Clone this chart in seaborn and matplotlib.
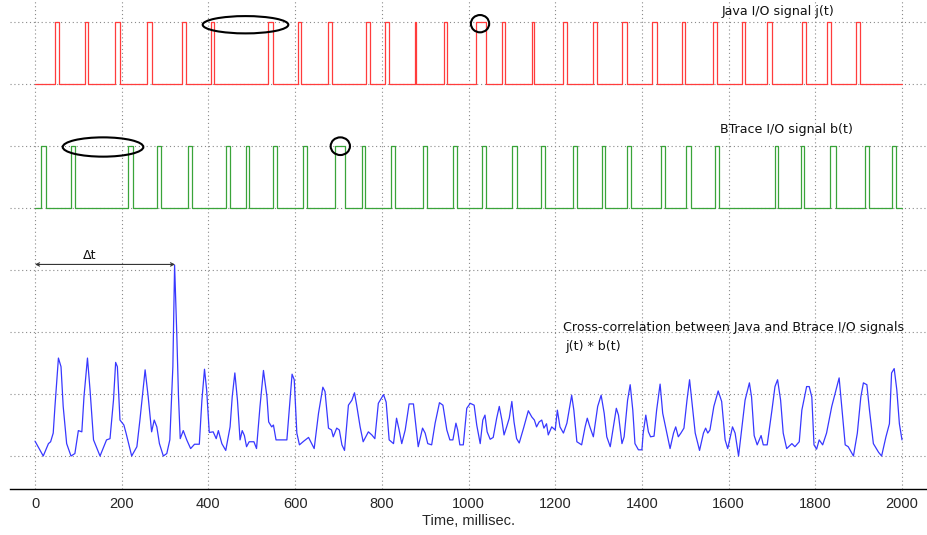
import numpy as np
import pandas as pd
import matplotlib
matplotlib.use("Agg")
import matplotlib.pyplot as plt
from matplotlib.patches import Ellipse
import seaborn as sns

# ---------------- data ----------------
# Java I/O signal j(t): pulse rise / fall times (ms)
java_rise = [45, 116, 185, 258, 338, 405, 538, 606, 677, 764, 808, 877, 944, 1017,
             1077, 1146, 1217, 1288, 1354, 1423, 1492, 1563, 1630, 1689, 1770, 1826, 1894]
java_fall = [56, 123, 196, 271, 348, 413, 550, 614, 686, 773, 817, 880, 950, 1040,
             1084, 1151, 1227, 1297, 1365, 1434, 1500, 1573, 1638, 1699, 1778, 1836, 1903]

# BTrace I/O signal b(t): pulse rise / fall times (ms)
btrace_rise = [14, 83, 214, 282, 352, 440, 486, 550, 619, 692, 754, 821, 894, 965,
               1031, 1101, 1167, 1240, 1307, 1365, 1444, 1502, 1569, 1707, 1767, 1834, 1915, 1976]
btrace_fall = [25, 92, 227, 291, 363, 450, 494, 558, 628, 715, 761, 831, 904, 974,
               1040, 1111, 1177, 1250, 1315, 1374, 1453, 1513, 1578, 1715, 1775, 1847, 1923, 1986]

# Cross-correlation j(t) * b(t)
xc_t = [0, 19, 31, 36, 42, 46, 54, 60, 65, 73, 83, 92, 100, 108, 113, 121, 127, 135, 150, 165,
        173, 181, 186, 190, 196, 205, 210, 223, 235, 242, 254, 261, 269, 275, 281, 287, 296, 304,
        311, 318, 322, 327, 331, 335, 342, 350, 359, 368, 379, 385, 391, 396, 402, 411, 418, 423,
        431, 440, 450, 455, 461, 467, 473, 478, 483, 488, 494, 505, 511, 519, 527, 535, 539, 546,
        550, 556, 581, 587, 593, 598, 604, 610, 620, 631, 644, 654, 664, 669, 677, 684, 688, 696,
        702, 708, 714, 723, 731, 737, 742, 750, 757, 769, 777, 784, 792, 804, 810, 817, 827, 834,
        840, 846, 854, 863, 873, 879, 884, 894, 900, 906, 915, 923, 933, 941, 950, 957, 964, 971,
        975, 980, 988, 996, 1004, 1013, 1019, 1027, 1033, 1038, 1043, 1050, 1057, 1065, 1071, 1077,
        1082, 1088, 1094, 1100, 1105, 1111, 1117, 1127, 1138, 1146, 1152, 1157, 1163, 1169, 1174,
        1180, 1184, 1192, 1200, 1205, 1211, 1219, 1227, 1238, 1243, 1250, 1261, 1269, 1274, 1280,
        1288, 1298, 1306, 1313, 1319, 1327, 1341, 1346, 1354, 1359, 1367, 1373, 1379, 1384, 1392,
        1400, 1403, 1409, 1415, 1420, 1428, 1434, 1442, 1448, 1456, 1465, 1473, 1478, 1484, 1490,
        1497, 1504, 1510, 1515, 1523, 1533, 1542, 1547, 1552, 1557, 1566, 1576, 1584, 1592, 1598,
        1609, 1615, 1623, 1630, 1638, 1648, 1653, 1659, 1666, 1675, 1680, 1689, 1700, 1707, 1713,
        1720, 1726, 1734, 1746, 1753, 1763, 1769, 1780, 1786, 1792, 1797, 1803, 1809, 1817, 1826,
        1838, 1848, 1855, 1861, 1869, 1876, 1888, 1897, 1905, 1911, 1919, 1925, 1934, 1946, 1953,
        1963, 1971, 1976, 1982, 1988, 1994, 2000]
xc_v = [0.24, 0.0, 0.2, 0.23, 0.37, 0.8, 1.58, 1.44, 0.8, 0.2, 0.0, 0.04, 0.41, 0.39, 0.96, 1.58,
        1.06, 0.26, 0.0, 0.26, 0.28, 0.9, 1.51, 1.44, 0.58, 0.5, 0.37, 0.0, 0.15, 0.58, 1.39, 0.96,
        0.39, 0.58, 0.47, 0.2, 0.0, 0.04, 0.26, 1.44, 3.08, 1.98, 0.96, 0.28, 0.41, 0.26, 0.12, 0.19,
        0.19, 0.9, 1.40, 1.06, 0.38, 0.39, 0.28, 0.41, 0.2, 0.09, 0.47, 0.96, 1.34, 0.9, 0.26, 0.41,
        0.33, 0.15, 0.23, 0.23, 0.12, 0.8, 1.38, 0.96, 0.55, 0.47, 0.5, 0.26, 0.26, 0.8, 1.32, 1.23,
        0.37, 0.18, 0.24, 0.3, 0.12, 0.69, 1.11, 1.04, 0.45, 0.42, 0.31, 0.45, 0.42, 0.18, 0.09, 0.82,
        0.9, 1.02, 0.82, 0.47, 0.23, 0.39, 0.34, 0.28, 0.85, 0.99, 0.87, 0.26, 0.2, 0.61, 0.42, 0.2,
        0.42, 0.84, 0.84, 0.47, 0.15, 0.45, 0.37, 0.2, 0.18, 0.53, 0.86, 0.82, 0.42, 0.26, 0.26, 0.53,
        0.42, 0.18, 0.18, 0.77, 0.85, 0.82, 0.5, 0.2, 0.58, 0.66, 0.39, 0.27, 0.3, 0.61, 0.8, 0.58,
        0.34, 0.47, 0.61, 0.88, 0.55, 0.28, 0.21, 0.45, 0.73, 0.63, 0.58, 0.47, 0.55, 0.58, 0.45,
        0.52, 0.34, 0.47, 0.42, 0.74, 0.47, 0.37, 0.53, 0.98, 0.74, 0.23, 0.18, 0.47, 0.61, 0.47,
        0.31, 0.8, 0.98, 0.69, 0.31, 0.15, 0.77, 0.66, 0.2, 0.31, 0.9, 1.15, 0.74, 0.2, 0.1, 0.1,
        0.37, 0.66, 0.39, 0.31, 0.32, 0.74, 1.16, 0.69, 0.42, 0.12, 0.37, 0.47, 0.31, 0.37, 0.45,
        0.9, 1.23, 0.9, 0.37, 0.09, 0.37, 0.45, 0.37, 0.42, 0.8, 1.05, 0.88, 0.26, 0.12, 0.47, 0.37,
        0.0, 0.42, 0.9, 1.18, 0.95, 0.33, 0.18, 0.33, 0.18, 0.18, 0.74, 1.12, 1.23, 0.9, 0.37, 0.12,
        0.2, 0.15, 0.23, 0.74, 1.12, 1.12, 0.95, 0.18, 0.11, 0.26, 0.18, 0.37, 0.8, 1.07, 1.26, 0.8,
        0.18, 0.15, 0.0, 0.37, 0.95, 1.18, 1.15, 0.74, 0.2, 0.06, 0.0, 0.31, 0.52, 1.34, 1.41, 1.07,
        0.52, 0.26]

x_ticks = [0, 200, 400, 600, 800, 1000, 1200, 1400, 1600, 1800, 2000]
peak_delay = 323  # Δt, ms

labels = {
    "java": "Java I/O signal j(t)",
    "btrace": "BTrace I/O signal b(t)",
    "xc1": "Cross-correlation between Java and Btrace I/O signals",
    "xc2": "j(t) * b(t)",
}


def pulse_frame(rises, falls, lo, hi, t0=0, t1=2000):
    xs, ys = [t0], [lo]
    for r, f in zip(rises, falls):
        xs += [r, r, f, f]
        ys += [lo, hi, hi, lo]
    xs.append(t1)
    ys.append(lo)
    return pd.DataFrame({"t": xs, "v": ys})


java_df = pulse_frame(java_rise, java_fall, 6, 7)
btrace_df = pulse_frame(btrace_rise, btrace_fall, 4, 5)
xc_df = pd.DataFrame({"t": xc_t, "v": xc_v})

# ---------------- plot ----------------
sns.set_theme(style="white")
plt.rcParams["font.family"] = ["DejaVu Sans"]

W, H = 927, 535
fig = plt.figure(figsize=(W / 100, H / 100), dpi=100)
ax = fig.add_axes([10 / W, (H - 489) / H, (W - 10) / W, 489 / H])

sns.lineplot(data=java_df, x="t", y="v", sort=False, estimator=None,
             color="#ff3c3c", lw=0.9, ax=ax)
sns.lineplot(data=btrace_df, x="t", y="v", sort=False, estimator=None,
             color="#3aa43a", lw=0.9, ax=ax)
sns.lineplot(data=xc_df, x="t", y="v", sort=False, estimator=None,
             color="#3838ff", lw=0.9, ax=ax)

ax.set_xlim(-57.7, 2057.7)
ax.set_ylim(-0.532, 7.355)
ax.set_xticks(x_ticks)
ax.set_xticklabels([str(t) for t in x_ticks], fontfamily="Liberation Sans", fontsize=10.5)
ax.set_yticks(range(8))
ax.set_yticklabels([])
ax.tick_params(axis="y", length=0)
ax.tick_params(axis="x", direction="in", length=10, width=0.8, color="#333333", pad=6)
ax.grid(True, linestyle=(0, (1, 2.5)), color="#8a8a8a", linewidth=0.8)
for s in ["left", "right", "top"]:
    ax.spines[s].set_visible(False)
ax.spines["bottom"].set_color("black")
ax.spines["bottom"].set_linewidth(1.0)
ax.set_xlabel("Time, millisec.", fontfamily="Liberation Sans", fontsize=10.5, labelpad=2)
ax.set_ylabel("")

fs = 9.1
ax.text(1585, 7.11, labels["java"], fontsize=fs, va="baseline", ha="left", color="#111111")
ax.text(1580, 5.21, labels["btrace"], fontsize=fs, va="baseline", ha="left", color="#111111")
ax.text(1218, 2.02, labels["xc1"], fontsize=fs, va="baseline", ha="left", color="#111111")
ax.text(1223, 1.71, labels["xc2"], fontsize=fs, va="baseline", ha="left", color="#111111")

# Δt arrow
ax.annotate("", xy=(peak_delay, 3.09), xytext=(0, 3.09),
            arrowprops=dict(arrowstyle="<->", color="#333333", lw=0.8,
                            shrinkA=0, shrinkB=0, mutation_scale=6))
ax.text(peak_delay * 0.39, 3.17, "Δt", fontsize=fs, ha="center", va="baseline", color="#111111")

# annotation ellipses
for (cx, cy, w, h) in [(485.6, 6.956, 197.5, 0.279), (1026.6, 6.973, 42.2, 0.279),
                       (156.9, 4.984, 186.0, 0.311), (704.3, 4.997, 44.5, 0.285)]:
    ax.add_patch(Ellipse((cx, cy), w, h, fill=False, ec="black", lw=1.5, zorder=5))

fig.savefig("out.png", dpi=100, facecolor="white")
